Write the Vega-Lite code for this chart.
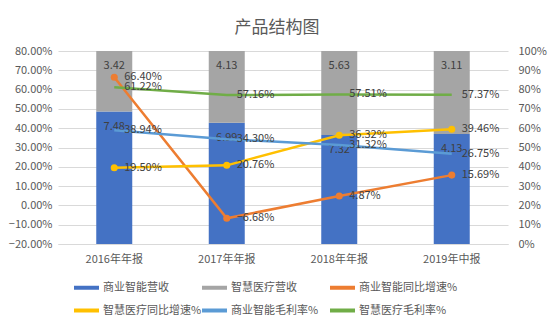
{
  "$schema": "https://vega.github.io/schema/vega-lite/v6.json",
  "width": 450,
  "height": 193,
  "autosize": "none",
  "padding": {"left": 58, "top": 51, "right": 46, "bottom": 79},
  "background": "white",
  "title": {"text": "产品结构图", "fontSize": 17, "color": "#595959", "font": "Noto Sans CJK SC", "fontWeight": "normal", "offset": 8, "dx": -6},
  "config": {
    "font": "Noto Sans CJK SC",
    "view": {"stroke": null},
    "axis": {"labelColor": "#595959", "labelFontSize": 11, "ticks": false, "domain": false, "gridColor": "#D9D9D9", "title": null, "labelFont": "Noto Sans CJK SC"},
    "legend": {"labelColor": "#595959", "labelFontSize": 11, "labelFont": "Noto Sans CJK SC"}
  },
  "datasets": {
    "bars": [
      {"period": "2016年年报", "series": "商业智能营收", "value": 7.48},
      {"period": "2016年年报", "series": "智慧医疗营收", "value": 3.42},
      {"period": "2017年年报", "series": "商业智能营收", "value": 6.99},
      {"period": "2017年年报", "series": "智慧医疗营收", "value": 4.13},
      {"period": "2018年年报", "series": "商业智能营收", "value": 7.32},
      {"period": "2018年年报", "series": "智慧医疗营收", "value": 5.63},
      {"period": "2019年中报", "series": "商业智能营收", "value": 4.13},
      {"period": "2019年中报", "series": "智慧医疗营收", "value": 3.11}
    ],
    "lines": [
      {"period": "2016年年报", "series": "商业智能同比增速%", "value": 0.664},
      {"period": "2017年年报", "series": "商业智能同比增速%", "value": -0.0668},
      {"period": "2018年年报", "series": "商业智能同比增速%", "value": 0.0487},
      {"period": "2019年中报", "series": "商业智能同比增速%", "value": 0.1569},
      {"period": "2016年年报", "series": "智慧医疗同比增速%", "value": 0.195},
      {"period": "2017年年报", "series": "智慧医疗同比增速%", "value": 0.2076},
      {"period": "2018年年报", "series": "智慧医疗同比增速%", "value": 0.3632},
      {"period": "2019年中报", "series": "智慧医疗同比增速%", "value": 0.3946},
      {"period": "2016年年报", "series": "商业智能毛利率%", "value": 0.3894},
      {"period": "2017年年报", "series": "商业智能毛利率%", "value": 0.343},
      {"period": "2018年年报", "series": "商业智能毛利率%", "value": 0.3132},
      {"period": "2019年中报", "series": "商业智能毛利率%", "value": 0.2675},
      {"period": "2016年年报", "series": "智慧医疗毛利率%", "value": 0.6122},
      {"period": "2017年年报", "series": "智慧医疗毛利率%", "value": 0.5716},
      {"period": "2018年年报", "series": "智慧医疗毛利率%", "value": 0.5751},
      {"period": "2019年中报", "series": "智慧医疗毛利率%", "value": 0.5737}
    ]
  },
  "encoding": {
    "x": {
      "field": "period", "type": "nominal", "sort": null,
      "scale": {"paddingInner": 0.68, "paddingOuter": 0.34},
      "axis": {"labelAngle": 0, "labelPadding": 9, "domain": true, "domainColor": "#D9D9D9"}
    }
  },
  "layer": [
    {
      "data": {"name": "bars"},
      "encoding": {
        "y": {"field": "value", "type": "quantitative", "stack": "normalize",
              "scale": {"domain": [0, 1], "nice": false},
              "axis": {"orient": "right", "format": ".0%", "values": [0, 0.1, 0.2, 0.3, 0.4, 0.5, 0.6, 0.7, 0.8, 0.9, 1], "grid": false, "labelPadding": 10}},
        "order": {"field": "series", "sort": "ascending"}
      },
      "layer": [
        {
          "mark": {"type": "bar"},
          "encoding": {
            "color": {
              "field": "series", "type": "nominal",
              "scale": {
                "domain": ["商业智能营收", "智慧医疗同比增速%", "智慧医疗营收", "商业智能毛利率%", "商业智能同比增速%", "智慧医疗毛利率%"],
                "range": ["#4472C4", "#FFC000", "#A5A5A5", "#5B9BD5", "#ED7D31", "#70AD47"]
              },
              "legend": {
                "title": null, "orient": "none", "legendX": 16, "legendY": 224,
                "columns": 3, "gridAlign": "all", "columnPadding": 0, "rowPadding": 5,
                "symbolType": "M-1,-0.16H1V0.16H-1Z", "symbolSize": 625, "symbolStrokeWidth": 0,
                "symbolOpacity": 1, "labelOffset": 4
              }
            }
          }
        },
        {
          "mark": {"type": "text", "baseline": "middle", "dy": 15, "fontSize": 11, "color": "#404040"},
          "encoding": {
            "text": {"field": "value", "type": "quantitative", "format": ".2f"},
            "detail": {"field": "series"}
          }
        }
      ]
    },
    {
      "data": {"name": "lines"},
      "encoding": {
        "y": {"field": "value", "type": "quantitative",
              "scale": {"domain": [-0.2, 0.8], "nice": false},
              "axis": {"orient": "left", "format": ".2%", "values": [-0.2, -0.1, 0, 0.1, 0.2, 0.3, 0.4, 0.5, 0.6, 0.7, 0.8], "grid": true, "labelPadding": 6}},
        "color": {"field": "series", "type": "nominal"}
      },
      "layer": [
        {"mark": {"type": "line", "strokeWidth": 2.5}},
        {
          "transform": [{"filter": {"field": "series", "oneOf": ["商业智能同比增速%", "智慧医疗同比增速%"]}}],
          "mark": {"type": "circle", "size": 50, "opacity": 1}
        },
        {
          "mark": {"type": "text", "align": "left", "baseline": "middle", "dx": 10, "fontSize": 11, "color": "#404040"},
          "encoding": {"text": {"field": "value", "type": "quantitative", "format": ".2%"}, "color": {"value": "#404040"}}
        }
      ]
    }
  ],
  "resolve": {"scale": {"y": "independent"}, "axis": {"y": "independent"}}
}
